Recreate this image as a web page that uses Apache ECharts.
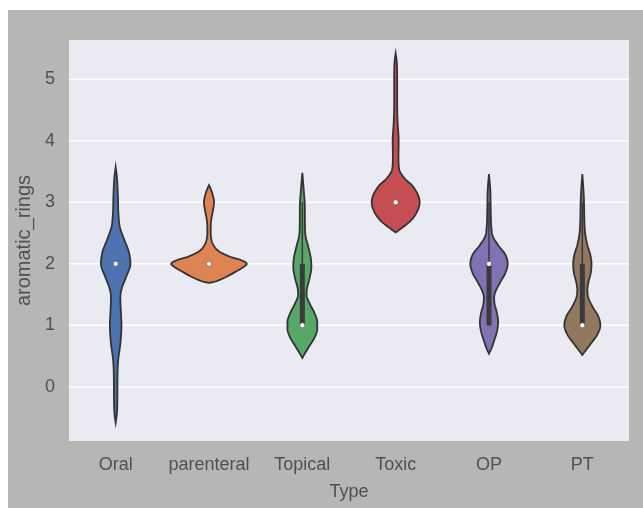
<!DOCTYPE html>
<html><head><meta charset="utf-8">
<script src="https://cdn.jsdelivr.net/npm/echarts@6/dist/echarts.min.js"></script>
<style>
html,body{margin:0;padding:0;background:#ffffff;}
#bg{position:absolute;left:8px;top:10px;width:635px;height:498px;background:#b6b7b5;}
#chart{position:absolute;left:0;top:0;width:643px;height:508px;}
</style></head>
<body><div id="bg"></div><div id="chart"></div>
<script>
// ---- data ----
const categories = ['Oral', 'parenteral', 'Topical', 'Toxic', 'OP', 'PT'];
const yTicks = [0, 1, 2, 3, 4, 5];
// violin profiles: [value, half-width as fraction of category band]
const oralProfile = [[-0.58,0],[-0.45,.012],[-0.2,.018],[0.2,.02],[0.45,.028],[0.7,.05],[1.0,.062],[1.25,.055],[1.45,.05],[1.6,.065],[1.8,.115],[2.0,.158],[2.2,.14],[2.4,.09],[2.6,.045],[2.8,.03],[3.1,.024],[3.4,.014],[3.57,0]];
const parenteralProfile = [[1.69,0],[1.71,.06],[1.75,.13],[1.85,.26],[1.95,.37],[2.0,.405],[2.05,.36],[2.12,.22],[2.2,.11],[2.3,.05],[2.4,.025],[2.55,.018],[2.7,.022],[2.85,.04],[3.0,.054],[3.12,.04],[3.22,.018],[3.28,0]];
const topicalProfile = [[0.47,0],[0.55,.03],[0.65,.07],[0.8,.13],[0.95,.16],[1.05,.16],[1.2,.13],[1.35,.08],[1.5,.045],[1.6,.05],[1.75,.075],[1.95,.097],[2.1,.09],[2.3,.06],[2.45,.035],[2.6,.028],[2.85,.027],[3.0,.025],[3.2,.015],[3.48,0]];
const toxicProfile = [[2.51,0],[2.6,.08],[2.7,.16],[2.85,.23],[3.0,.257],[3.25,.19],[3.4,.09],[3.55,.036],[3.75,.03],[4.0,.032],[4.3,.021],[4.6,.016],[5.0,.016],[5.3,.011],[5.42,0]];
const opProfile = [[0.54,0],[0.62,.025],[0.75,.055],[0.9,.085],[1.05,.098],[1.2,.085],[1.35,.06],[1.45,.055],[1.55,.07],[1.7,.12],[1.85,.175],[2.0,.20],[2.15,.175],[2.3,.10],[2.45,.04],[2.6,.025],[2.9,.018],[3.2,.014],[3.46,0]];
const ptProfile = [[0.52,0],[0.6,.04],[0.7,.09],[0.85,.16],[1.0,.193],[1.15,.17],[1.3,.11],[1.45,.065],[1.58,.054],[1.7,.065],[1.85,.09],[2.0,.098],[2.15,.085],[2.3,.055],[2.5,.03],[2.7,.022],[3.0,.018],[3.2,.012],[3.46,0]];
const profiles = [oralProfile, parenteralProfile, topicalProfile, toxicProfile, opProfile, ptProfile];
const medians = [2, 2, 1, 3, 2, 1];
const boxLow = [null, null, 1, null, 1, 1];
const boxHigh = [null, null, 2, null, 2, 2];
const whiskerLow = [null, null, 1, null, 1, 1];
const whiskerHigh = [null, null, 3, null, 3, 3];
const colors = ['#4c72b0', '#dd8452', '#55a868', '#c44e52', '#8172b3', '#937860'];

// ---- rendering helpers ----
function monotone(pts, steps) {
  const n = pts.length, x = pts.map(p => p[0]), y = pts.map(p => p[1]);
  const d = [], m = [];
  for (let i = 0; i < n - 1; i++) d.push((y[i+1] - y[i]) / (x[i+1] - x[i]));
  m[0] = d[0]; m[n-1] = d[n-2];
  for (let i = 1; i < n - 1; i++) m[i] = d[i-1] * d[i] <= 0 ? 0 : (d[i-1] + d[i]) / 2;
  for (let i = 0; i < n - 1; i++) {
    if (d[i] === 0) { m[i] = 0; m[i+1] = 0; continue; }
    const a = m[i] / d[i], b = m[i+1] / d[i], s = a*a + b*b;
    if (s > 9) { const t = 3 / Math.sqrt(s); m[i] = t*a*d[i]; m[i+1] = t*b*d[i]; }
  }
  const out = [];
  for (let i = 0; i < n - 1; i++) {
    const h = x[i+1] - x[i];
    for (let k = 0; k < steps; k++) {
      const t = k / steps, t2 = t*t, t3 = t2*t;
      const v = (2*t3 - 3*t2 + 1)*y[i] + (t3 - 2*t2 + t)*h*m[i] + (-2*t3 + 3*t2)*y[i+1] + (t3 - t2)*h*m[i+1];
      out.push([x[i] + t*h, Math.max(0, v)]);
    }
  }
  out.push(pts[n-1]);
  return out;
}

const chart = echarts.init(document.getElementById('chart'), null, {renderer: 'canvas'});
const textColor = '#505050';
const font = "'Liberation Sans', Arial, sans-serif";

chart.setOption({
  backgroundColor: 'transparent',
  animation: false,
  grid: {left: 69, right: 14, top: 40, bottom: 67, show: true, backgroundColor: '#eaeaf2', borderWidth: 0},
  xAxis: {
    type: 'category', data: categories, boundaryGap: true,
    axisLine: {show: false}, axisTick: {show: false}, splitLine: {show: false},
    axisLabel: {color: textColor, fontSize: 18, fontFamily: font, margin: 15, interval: 0},
    name: 'Type', nameLocation: 'middle', nameGap: 42,
    nameTextStyle: {color: textColor, fontSize: 18, fontFamily: font}
  },
  yAxis: {
    type: 'value', min: -0.88, max: 5.64,
    axisLine: {show: false}, axisTick: {show: false}, splitLine: {show: false},
    axisLabel: {color: textColor, fontSize: 18, fontFamily: font, margin: 14, customValues: yTicks},
    name: 'aromatic_rings', nameLocation: 'middle', nameGap: 29,
    nameTextStyle: {color: textColor, fontSize: 20, fontFamily: font}
  },
  series: [
    {
      type: 'custom', z: 1, silent: true,
      data: yTicks.map(v => [0, v]),
      renderItem: function (params, api) {
        const cs = params.coordSys;
        const y = api.coord([0, api.value(1)])[1];
        return {type: 'line', shape: {x1: cs.x, y1: y, x2: cs.x + cs.width, y2: y},
                style: {stroke: '#ffffff', lineWidth: 1.5}};
      }
    },
    {
      type: 'custom', z: 3,
      data: categories.map((c, i) => [i]),
      renderItem: function (params, api) {
        const i = params.dataIndex;
        const band = api.size([1, 0])[0];
        const prof = monotone(profiles[i], 8);
        const right = [], left = [];
        prof.forEach(p => {
          const c = api.coord([i, p[0]]);
          right.push([c[0] + p[1] * band, c[1]]);
          left.push([c[0] - p[1] * band, c[1]]);
        });
        const pts = right.concat(left.reverse());
        const children = [{
          type: 'polygon', shape: {points: pts},
          style: {fill: colors[i], stroke: '#333333', lineWidth: 1.8}
        }];
        const cx = api.coord([i, 0])[0];
        if (whiskerLow[i] !== null) {
          const a = api.coord([i, whiskerLow[i]]), b = api.coord([i, whiskerHigh[i]]);
          children.push({type: 'line', shape: {x1: cx, y1: a[1], x2: cx, y2: b[1]}, style: {stroke: '#3a3a3a', lineWidth: 1.5}});
        }
        if (boxLow[i] !== null) {
          const a = api.coord([i, boxLow[i]]), b = api.coord([i, boxHigh[i]]);
          children.push({type: 'rect', shape: {x: cx - 2.5, y: b[1], width: 5, height: a[1] - b[1]}, style: {fill: '#3a3a3a'}});
        }
        const m = api.coord([i, medians[i]]);
        children.push({type: 'circle', shape: {cx: cx, cy: m[1], r: 2.5}, style: {fill: '#ffffff', stroke: '#3a3a3a', lineWidth: 0.5}});
        return {type: 'group', children: children};
      }
    }
  ]
});
</script>
</body></html>
